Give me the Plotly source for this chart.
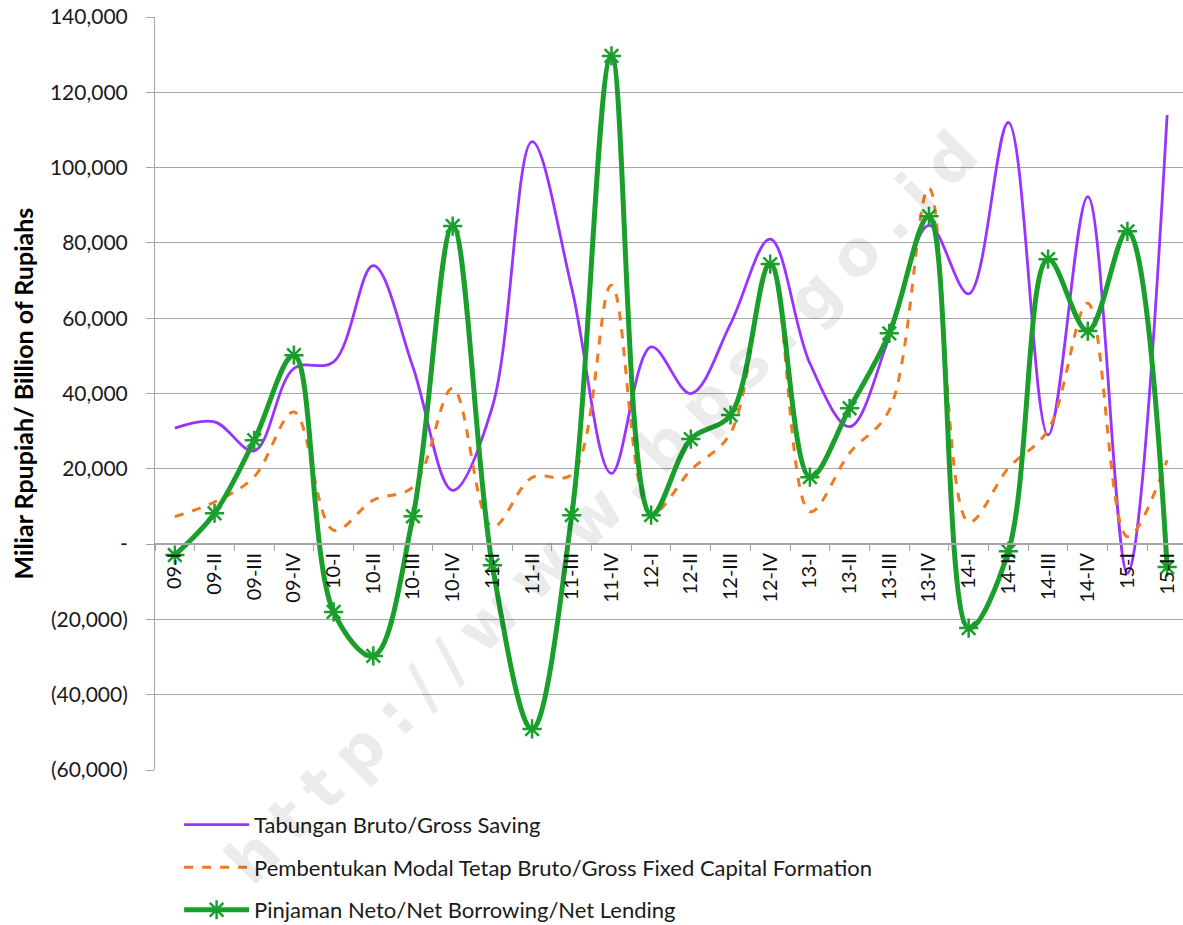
import plotly.graph_objects as go

categories = ["09-I", "09-II", "09-III", "09-IV", "10-I", "10-II", "10-III", "10-IV",
              "11-I", "11-II", "11-III", "11-IV", "12-I", "12-II", "12-III", "12-IV",
              "13-I", "13-II", "13-III", "13-IV", "14-I", "14-II", "14-III", "14-IV",
              "15-I", "15-II"]

gross_saving = [30800, 32500, 24800, 46700, 48400, 74000, 47000, 14300, 36500, 106900,
                68000, 18800, 52400, 40000, 58500, 81000, 48000, 31200, 55000, 84700,
                66500, 112000, 29000, 92300, -7700, 114000]

gross_fixed_capital = [7300, 11200, 17900, 35100, 3700, 11700, 15200, 41400, 4600, 17700,
                       18500, 68800, 8200, 19700, 29500, 75400, 8600, 24200, 35600, 94600,
                       5900, 20200, 30300, 64000, 2000, 22300]

net_lending = [-2900, 8200, 27600, 50200, -18000, -29700, 7400, 84500, -5600, -49100,
               7700, 129700, 7700, 27900, 34300, 74400, 17800, 36100, 56000, 87100,
               -22300, -1900, 75700, 56600, 83100, -6100]

ytick_vals = [-60000, -40000, -20000, 0, 20000, 40000, 60000, 80000, 100000, 120000, 140000]
ytick_text = ["(60,000)", "(40,000)", "(20,000)", "-", "20,000", "40,000", "60,000",
              "80,000", "100,000", "120,000", "140,000"]

names = ["Tabungan Bruto/Gross Saving",
         "Pembentukan Modal Tetap Bruto/Gross Fixed Capital Formation",
         "Pinjaman Neto/Net Borrowing/Net Lending"]

FONT = "Lato, Calibri, Carlito, sans-serif"
grid = "#a6a6a6"

fig = go.Figure()

fig.add_trace(go.Scatter(
    x=categories, y=gross_saving, name=names[0], mode="lines",
    line=dict(color="#9933ff", width=2.8, shape="spline", smoothing=1.0),
    legendgroup="a"))
fig.add_trace(go.Scatter(
    x=categories, y=gross_fixed_capital, name=names[1], mode="lines",
    line=dict(color="#f07b1e", width=3, dash="dash", shape="spline", smoothing=1.0),
    legendgroup="b"))
fig.add_trace(go.Scatter(
    x=categories, y=net_lending, name=names[2], mode="lines+markers",
    line=dict(color="#1a9f2c", width=5, shape="spline", smoothing=1.0),
    marker=dict(symbol="asterisk-open", size=16, color="#1a9f2c",
                line=dict(color="#1a9f2c", width=2.5)),
    legendgroup="c"))

# watermark
fig.add_annotation(
    x=0.44, y=-0.175, xref="paper", yref="paper",
    text='<span style="letter-spacing:15px">http://www.bps.go.id</span>',
    textangle=-45, showarrow=False,
    font=dict(family="DejaVu Sans", size=63, weight=700, color="rgba(0,0,0,0.08)"))

# y-axis title
fig.add_annotation(
    x=-0.1285, y=0.5, xref="paper", yref="paper",
    text="<b>Miliar Rpupiah/ Billion of Rupiahs</b>",
    textangle=-90, showarrow=False, xanchor="center", yanchor="middle",
    font=dict(family=FONT, size=25, color="#000000"))

fig.update_layout(
    width=1183, height=925,
    margin=dict(l=155, r=0, t=17, b=155, autoexpand=False),
    paper_bgcolor="white", plot_bgcolor="white",
    font=dict(family=FONT, size=20, color="#1a1a1a"),
    showlegend=True,
    legend=dict(x=0.1514, y=0.1311, xref="container", yref="container",
                xanchor="left", yanchor="top",
                font=dict(family=FONT, size=22, color="#1a1a1a"),
                tracegroupgap=11, itemwidth=65, bgcolor="rgba(0,0,0,0)"),
    xaxis=dict(
        type="category", range=[-0.5, 25.4], automargin=False,
        anchor="free", position=0.3,
        showgrid=False, showline=True, linecolor=grid, linewidth=1.5,
        ticks="outside", tickson="boundaries", ticklen=6, tickcolor=grid,
        tickangle=-90, tickfont=dict(family=FONT, size=20, color="#111111"),
        zeroline=False),
    yaxis=dict(
        range=[-60000, 140030], tickvals=ytick_vals, ticktext=ytick_text,
        automargin=False,
        showgrid=True, gridcolor=grid, gridwidth=1,
        showline=True, linecolor=grid, linewidth=1,
        ticks="outside", ticklen=8, tickcolor=grid, ticklabelstandoff=14,
        tickfont=dict(family=FONT, size=21, color="#1a1a1a"),
        ticklabeloverflow="allow",
        zeroline=False),
)

fig.write_html("out.html", config={"displayModeBar": False},
               post_script="document.body.style.margin='0';document.body.style.overflow='hidden';")
